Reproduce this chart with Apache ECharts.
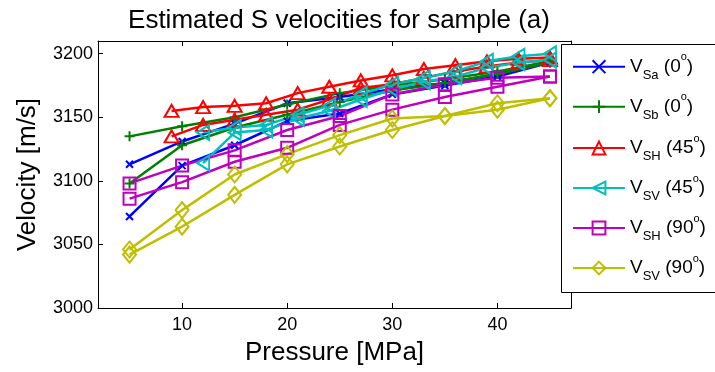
<!DOCTYPE html>
<html>
<head>
<meta charset="utf-8">
<script src="https://cdn.jsdelivr.net/npm/echarts@6/dist/echarts.min.js"></script>
<style>
  html, body { margin: 0; padding: 0; background: #fff; }
  #chart { width: 715px; height: 372px; }
</style>
</head>
<body>
<div id="chart"></div>
<script>
// Confining pressure steps (MPa) used by the different measurement sets
const pressure5 = [5, 10, 15, 20, 25, 30, 35, 40, 45];
const pressure9 = [9, 12, 15, 18, 21, 24, 27, 30, 33, 36, 39, 42, 45];
const pressure12 = [12, 15, 18, 21, 24, 27, 30, 33, 36, 39, 42, 45];

// S-wave velocities (m/s); each set has two branches
const vSa0Upper = [3113, 3131, 3145, 3161, 3166, 3172, 3177, 3184, 3193];
const vSa0Lower = [3072, 3112, 3128, 3147, 3153, 3168, 3175, 3182, 3193];
const vSb0Upper = [3135, 3143, 3150, 3160, 3169, 3175, 3180, 3186, 3194];
const vSb0Lower = [3098, 3128, 3142, 3152, 3162, 3171, 3177, 3184, 3193];
const vSH45Upper = [3155, 3158, 3159, 3161, 3169, 3174, 3179, 3183, 3188, 3191, 3194, 3196, 3197];
const vSH45Lower = [3135, 3144, 3148, 3152, 3156, 3164, 3173, 3176, 3181, 3186, 3190, 3193, 3195];
const vSV45Upper = [3138, 3142, 3144, 3152, 3159, 3168, 3176, 3181, 3186, 3194, 3198, 3200];
const vSV45Lower = [3114, 3138, 3140, 3149, 3155, 3164, 3172, 3178, 3182, 3189, 3193, 3195];
const vSH90Upper = [3098, 3112, 3124, 3140, 3151, 3168, 3176, 3181, 3182];
const vSH90Lower = [3086, 3099, 3115, 3126, 3144, 3156, 3166, 3174, 3182];
const vSV90Upper = [3046, 3077, 3105, 3121, 3136, 3149, 3151, 3161, 3165];
const vSV90Lower = [3042, 3064, 3089, 3113, 3127, 3140, 3151, 3156, 3165];

// Axis ticks
const xTicks = [10, 20, 30, 40];
const yTicks = [3000, 3050, 3100, 3150, 3200];

const FONT = '"Liberation Sans", Arial, sans-serif';

const SYM_X = 'path://M0,0L10,10M0,10L10,0';
const SYM_PLUS = 'path://M5,0L5,10M0,5L10,5';

const sets = [
  { name: 'VSa0',  label: ['Sa', '0'],  color: '#0000FF', x: pressure5,  up: vSa0Upper,  low: vSa0Lower,  symbol: SYM_X,      size: 7,        rot: 0 },
  { name: 'VSb0',  label: ['Sb', '0'],  color: '#008000', x: pressure5,  up: vSb0Upper,  low: vSb0Lower,  symbol: SYM_PLUS,   size: 10,       rot: 0 },
  { name: 'VSH45', label: ['SH', '45'], color: '#FF0000', x: pressure9,  up: vSH45Upper, low: vSH45Lower, symbol: 'triangle', size: [14, 12], rot: 0 },
  { name: 'VSV45', label: ['SV', '45'], color: '#00BFBF', x: pressure12, up: vSV45Upper, low: vSV45Lower, symbol: 'triangle', size: [15, 12], rot: 90 },
  { name: 'VSH90', label: ['SH', '90'], color: '#BF00BF', x: pressure5,  up: vSH90Upper, low: vSH90Lower, symbol: 'rect',     size: 12,       rot: 0 },
  { name: 'VSV90', label: ['SV', '90'], color: '#BFBF00', x: pressure5,  up: vSV90Upper, low: vSV90Lower, symbol: 'diamond',  size: [13, 16], rot: 0 }
];

function pairs(xs, ys) { return xs.map((x, i) => [x, ys[i]]); }

const series = [];
sets.forEach(s => {
  [s.low, s.up].forEach(vals => {
    series.push({
      name: s.name,
      type: 'line',
      xAxisIndex: 0,
      yAxisIndex: 0,
      data: pairs(s.x, vals),
      symbol: s.symbol,
      symbolSize: s.size,
      symbolRotate: s.rot,
      showAllSymbol: true,
      lineStyle: { color: s.color, width: 2.5 },
      itemStyle: { color: 'rgba(0,0,0,0)', borderColor: s.color, borderWidth: 2 },
      emphasis: { disabled: true },
      animation: false
    });
  });
});

const legendRows = [66.7, 106.7, 148, 188, 228, 268];
const legends = sets.map((s, i) => ({
  data: [s.name],
  orient: 'vertical',
  left: 572,
  top: legendRows[i] - 15,
  padding: 0,
  itemWidth: 52,
  itemHeight: 16,
  itemGap: 0,
  z: 20,
  selectedMode: false,
  formatter: () => '{v|V}{sub|' + s.label[0] + '}{v| (' + s.label[1] + '}{sup|o}{v|)}',
  textStyle: {
    color: '#000',
    fontFamily: FONT,
    rich: {
      v:   { fontSize: 19, fontFamily: FONT, color: '#000', lineHeight: 30, verticalAlign: 'middle' },
      sub: { fontSize: 13, fontFamily: FONT, color: '#000', lineHeight: 14, verticalAlign: 'bottom' },
      sup: { fontSize: 11, fontFamily: FONT, color: '#000', lineHeight: 12, verticalAlign: 'top' }
    }
  }
}));

const axisLineStyle = { color: '#000', width: 1 };
const plainNumber = v => String(v);

const option = {
  backgroundColor: '#fff',
  animation: false,
  title: {
    text: 'Estimated S velocities for sample (a)',
    left: 334,
    top: 3,
    textAlign: 'center',
    textStyle: { fontFamily: FONT, fontSize: 26, fontWeight: 'normal', color: '#000' }
  },
  grid: { left: 98, right: 144, top: 41, bottom: 64, containLabel: false },
  xAxis: [
    {
      type: 'value', min: 2, max: 47, position: 'bottom',
      axisLine: { show: true, onZero: false, lineStyle: axisLineStyle },
      axisTick: { show: true, inside: true, length: 5, customValues: xTicks, lineStyle: axisLineStyle },
      axisLabel: { customValues: xTicks, formatter: plainNumber, color: '#000', fontSize: 18, fontFamily: FONT, margin: 8 },
      splitLine: { show: false },
      name: 'Pressure [MPa]', nameLocation: 'middle', nameGap: 32,
      nameTextStyle: { fontSize: 26, fontFamily: FONT, color: '#000' }
    },
    {
      type: 'value', min: 2, max: 47, position: 'top',
      axisLine: { show: true, onZero: false, lineStyle: axisLineStyle },
      axisTick: { show: true, inside: true, length: 5, customValues: xTicks, lineStyle: axisLineStyle },
      axisLabel: { show: false },
      splitLine: { show: false }
    }
  ],
  yAxis: [
    {
      type: 'value', min: 3000, max: 3210, position: 'left',
      axisLine: { show: true, onZero: false, lineStyle: axisLineStyle },
      axisTick: { show: true, inside: true, length: 5, customValues: yTicks, lineStyle: axisLineStyle },
      axisLabel: { customValues: yTicks, formatter: plainNumber, color: '#000', fontSize: 18, fontFamily: FONT, margin: 5 },
      splitLine: { show: false },
      name: 'Velocity [m/s]', nameLocation: 'middle', nameGap: 57, nameRotate: 90,
      nameTextStyle: { fontSize: 26, fontFamily: FONT, color: '#000' }
    },
    {
      type: 'value', min: 3000, max: 3210, position: 'right',
      axisLine: { show: true, onZero: false, lineStyle: axisLineStyle },
      axisTick: { show: true, inside: true, length: 5, customValues: yTicks, lineStyle: axisLineStyle },
      axisLabel: { show: false },
      splitLine: { show: false }
    }
  ],
  legend: legends,
  graphic: [
    {
      type: 'rect', z: 10,
      shape: { x: 561.5, y: 44.5, width: 200, height: 248 },
      style: { fill: '#fff', stroke: '#000', lineWidth: 1 }
    }
  ],
  series: series
};

const chart = echarts.init(document.getElementById('chart'), null, { renderer: 'canvas' });
chart.setOption(option);
</script>
</body>
</html>
